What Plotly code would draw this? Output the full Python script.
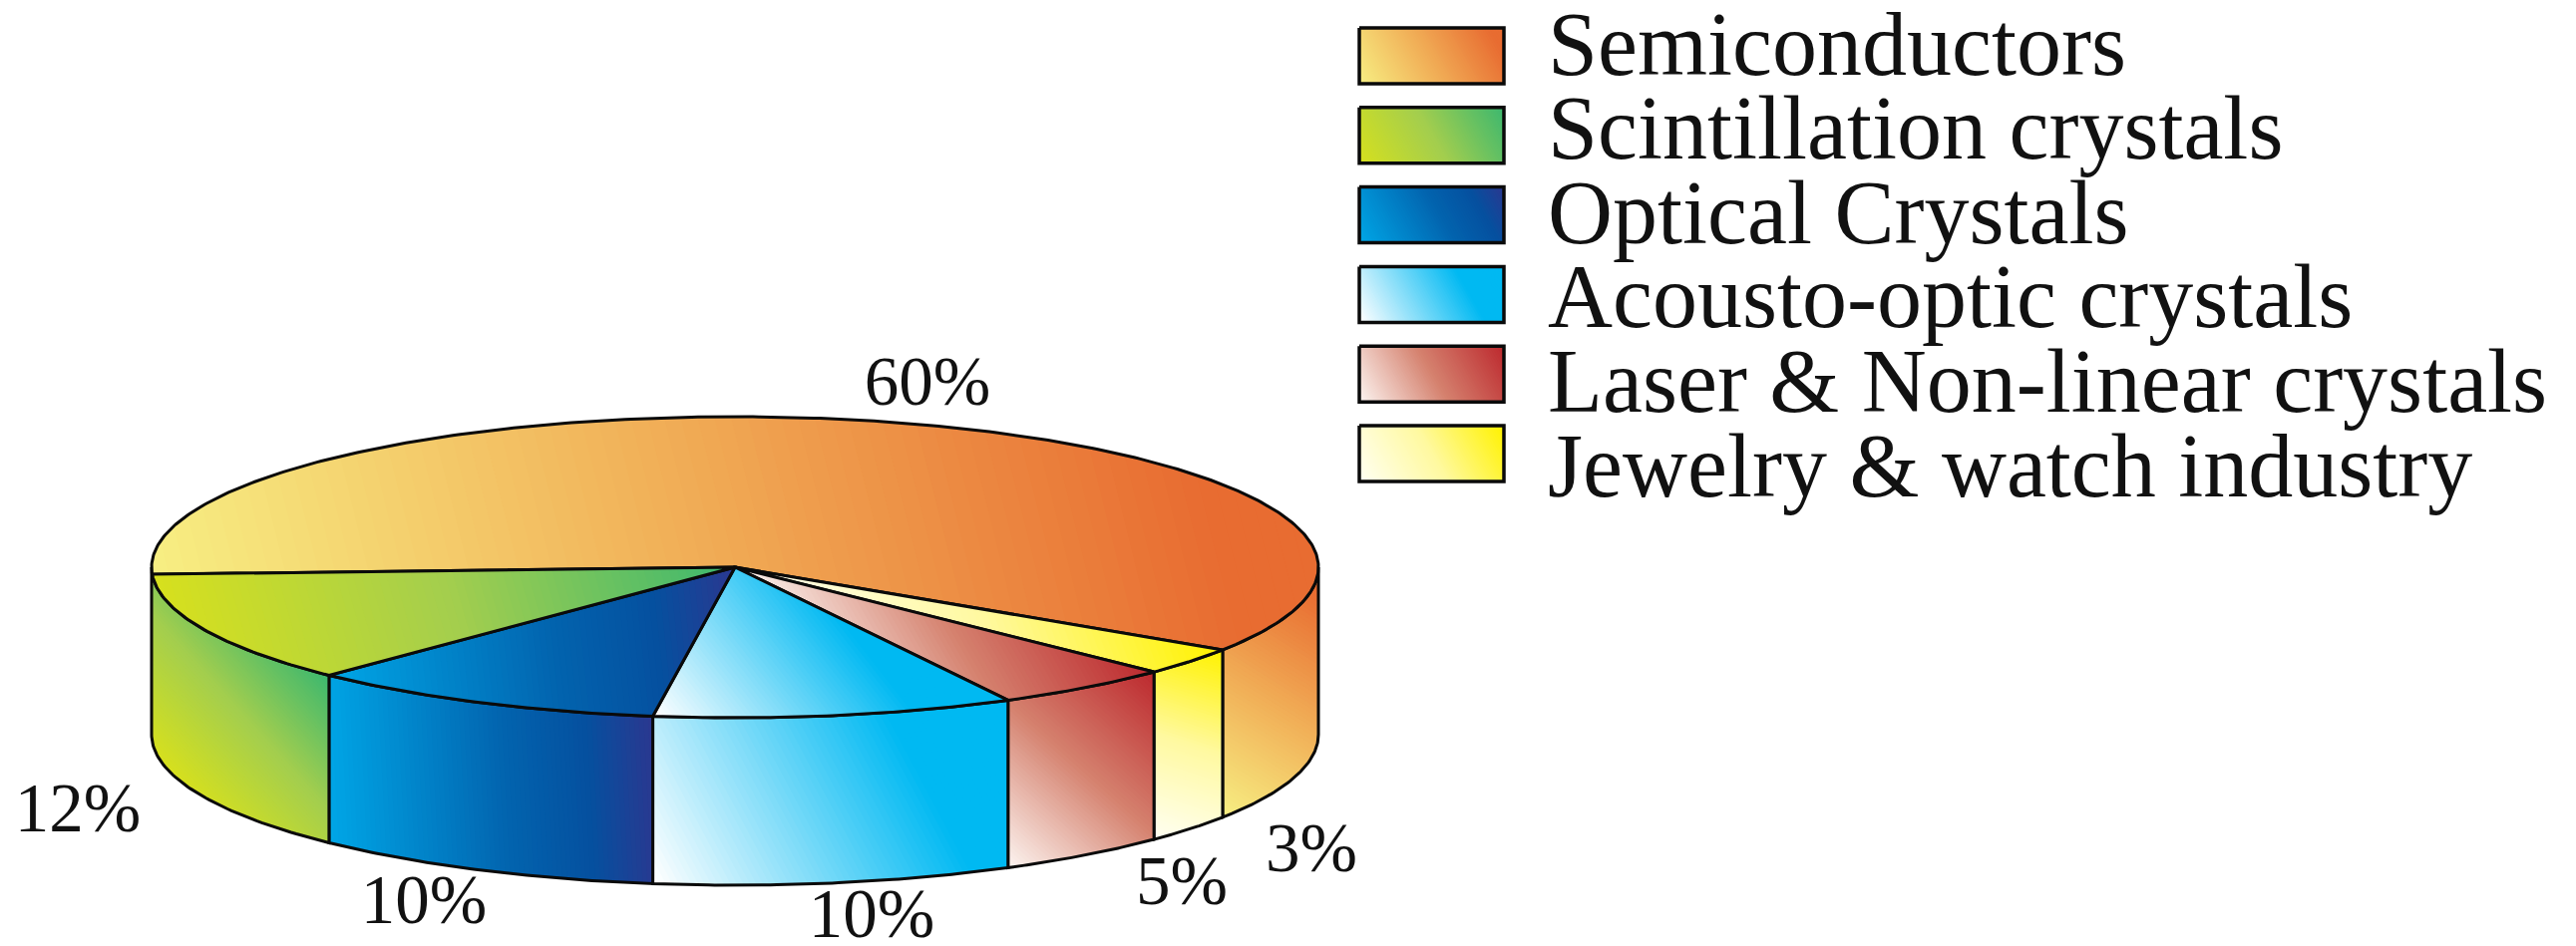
import numpy as np
import plotly.graph_objects as go

# ---- data -------------------------------------------------------------
categories = ["Semiconductors", "Scintillation crystals", "Optical Crystals",
              "Acousto-optic crystals", "Laser & Non-linear crystals",
              "Jewelry & watch industry"]
shares = [60, 12, 10, 10, 5, 3]
pie_order = [0, 5, 4, 3, 2, 1]   # clockwise order of the slices round the pie

# ---- style ------------------------------------------------------------
FONT = "Liberation Serif"
W, H = 2583, 949
CX, CY, RX, RY, DEPTH = 737, 569, 585, 151, 168
START_DEG = 182.7          # the first slice starts here, going clockwise
N_BANDS = 70

stops = [
    [(0, "#F7EE82"), (0.45, "#F1B058"), (0.92, "#E86C31"), (1, "#E86C31")],
    [(0, "#D6E01E"), (0.5, "#A3CE4E"), (1, "#3DB86F")],
    [(0, "#00A6E6"), (0.55, "#0263AE"), (0.8, "#05509F"), (1, "#2A3890")],
    [(0, "#FFFFFF"), (0.72, "#00B9F2"), (1, "#00B9F2")],
    [(0, "#FCF3EF"), (0.5, "#D5826F"), (1, "#BD2A2F")],
    [(0, "#FFFFF2"), (0.5, "#FFF9A0"), (1, "#FFF200")],
]
# gradient direction of each face, degrees above horizontal
top_theta = [14, 16, 6, 38, 30, 20]
side_theta = [58, 42, 3, 28, 48, 72]
swatch_theta = 30

label_pos = [(930, 389), (78, 817), (425, 909), (874, 923), (1185, 890), (1315, 857)]
LEGEND_X0, LEGEND_X1, LEGEND_Y0, LEGEND_H, LEGEND_STEP = 1363, 1508, 28, 56, 79.8
LEGEND_TEXT_X, LEGEND_TEXT_Y0, LEGEND_TEXT_STEP = 1552, 52, 84.6


def hex_rgb(h):
    return np.array([int(h[i:i + 2], 16) for i in (1, 3, 5)], float)


def colour_at(stop, t):
    pos = [s[0] for s in stop]
    rgb = np.array([hex_rgb(s[1]) for s in stop])
    vals = [np.interp(t, pos, rgb[:, k]) for k in range(3)]
    return "rgb(%d,%d,%d)" % tuple(round(v) for v in vals)


def clip(px, py, dx, dy, limit):
    """Keep the part of a polygon whose projection on (dx,dy) is >= limit."""
    ox, oy = [], []
    d = px * dx + py * dy - limit
    n = len(px)
    for i in range(n):
        j = (i + 1) % n
        if d[i] >= 0:
            ox.append(px[i]); oy.append(py[i])
        if (d[i] >= 0) != (d[j] >= 0):
            f = d[i] / (d[i] - d[j])
            ox.append(px[i] + f * (px[j] - px[i]))
            oy.append(py[i] + f * (py[j] - py[i]))
    return np.array(ox), np.array(oy)


fig = go.Figure()


def face(px, py, stop, theta, lw=3):
    """A polygon with a straight gradient, painted band over band."""
    a = np.radians(theta)
    dx, dy = np.cos(a), -np.sin(a)      # y axis points down on the page
    proj = px * dx + py * dy
    lo, hi = proj.min(), proj.max()
    for k in range(N_BANDS):
        t = k / (N_BANDS - 1)
        qx, qy = clip(px, py, dx, dy, lo + (hi - lo) * k / N_BANDS)
        if len(qx) < 3:
            continue
        fig.add_trace(go.Scatter(
            x=np.append(qx, qx[0]), y=np.append(qy, qy[0]), mode="lines",
            fill="toself", fillcolor=colour_at(stop, t),
            line=dict(width=0), hoverinfo="skip", showlegend=False))
    fig.add_trace(go.Scatter(
        x=np.append(px, px[0]), y=np.append(py, py[0]), mode="lines",
        line=dict(color="#0a0a0a", width=lw), hoverinfo="skip", showlegend=False))


def ex(deg):
    return CX + RX * np.cos(np.radians(deg))


def ey(deg):
    return CY - RY * np.sin(np.radians(deg))


# slice boundaries, from the shares, clockwise round the pie
edges = [START_DEG]
for i in pie_order:
    edges.append(edges[-1] - shares[i] * 3.6)

# side walls: only the front half of the rim shows
for n, i in enumerate(pie_order):
    hi = min(edges[n], 0)
    lo = -180 if n == len(pie_order) - 1 else max(edges[n + 1], -180)
    if hi <= lo:
        continue
    arc = np.linspace(lo, hi, 60)
    px = np.concatenate([ex(arc), ex(arc[::-1])])
    py = np.concatenate([ey(arc), ey(arc[::-1]) + DEPTH])
    face(px, py, stops[i], side_theta[i])

# top faces
for n, i in enumerate(pie_order):
    arc = np.linspace(edges[n], edges[n + 1], max(12, int(shares[i] * 6)))
    px = np.concatenate([[CX], ex(arc)])
    py = np.concatenate([[CY], ey(arc)])
    face(px, py, stops[i], top_theta[i])

# percentage labels
fig.add_trace(go.Scatter(
    x=[p[0] for p in label_pos], y=[p[1] for p in label_pos],
    text=[f"{s}%" for s in shares], mode="text", textposition="middle center",
    textfont=dict(family=FONT, size=69, color="#111111"),
    hoverinfo="skip", showlegend=False))

# legend
for i, name in enumerate(categories):
    y0 = LEGEND_Y0 + i * LEGEND_STEP
    px = np.array([LEGEND_X0, LEGEND_X1, LEGEND_X1, LEGEND_X0], float)
    py = np.array([y0, y0, y0 + LEGEND_H, y0 + LEGEND_H], float)
    face(px, py, stops[i], swatch_theta, lw=3.5)

fig.add_trace(go.Scatter(
    x=[LEGEND_TEXT_X] * len(categories),
    y=[LEGEND_TEXT_Y0 + i * LEGEND_TEXT_STEP for i in range(len(categories))],
    text=categories, mode="text", textposition="middle right",
    textfont=dict(family=FONT, size=90, color="#111111"),
    hoverinfo="skip", showlegend=False))

fig.update_layout(
    width=W, height=H, margin=dict(l=0, r=0, t=0, b=0),
    paper_bgcolor="white", plot_bgcolor="white", showlegend=False,
    xaxis=dict(range=[0, W], visible=False, fixedrange=True),
    yaxis=dict(range=[H, 0], visible=False, fixedrange=True),
)
fig.write_html("out.html", config={"displayModeBar": False},
               post_script="document.body.style.margin='0';"
                           "document.documentElement.style.overflow='hidden';")
